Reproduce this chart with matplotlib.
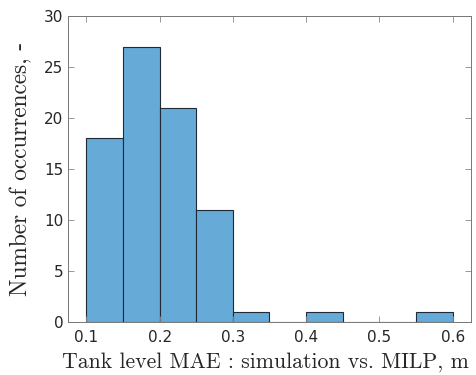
import matplotlib
matplotlib.use("Agg")
import matplotlib.pyplot as plt
import numpy as np

# histogram bins (MAE in m) and counts
bin_edges = [0.10, 0.15, 0.20, 0.25, 0.30, 0.35, 0.40, 0.45, 0.50, 0.55, 0.60]
counts = [18, 27, 21, 11, 1, 0, 1, 0, 0, 1]
x_ticks = [0.1, 0.2, 0.3, 0.4, 0.5, 0.6]
y_ticks = [0, 5, 10, 15, 20, 25, 30]

axis_col = '#262626'

fig = plt.figure(figsize=(4.77, 3.75), dpi=100)
ax = fig.add_axes([68 / 477, 1 - 322 / 375, 403 / 477, 306 / 375])

widths = np.diff(bin_edges)
ax.bar(bin_edges[:-1], counts, width=widths, align='edge',
       color='#66AAD7', edgecolor='#1f2a36', linewidth=0.8)

ax.set_xlim(0.075, 0.625)
ax.set_ylim(0, 30)
ax.set_xticks(x_ticks)
ax.set_yticks(y_ticks)
ax.set_xticklabels([f'{v:g}' for v in x_ticks])
ax.tick_params(direction='in', top=True, right=True, length=4, width=0.6,
               colors='#888888', labelcolor=axis_col, labelsize=11)
ax.tick_params(axis='x', pad=6)
for s in ax.spines.values():
    s.set_color('#777777')
    s.set_linewidth(0.7)

ax.set_xlabel('Tank level MAE : simulation vs. MILP, m',
              family='cmr10', fontsize=15.7, color=axis_col)
ax.xaxis.set_label_coords(0.49, -0.1)
ax.set_ylabel('Number of occurrences, -',
              family='cmr10', fontsize=16.8, color=axis_col, labelpad=8)

fig.savefig('out.png', dpi=100)
